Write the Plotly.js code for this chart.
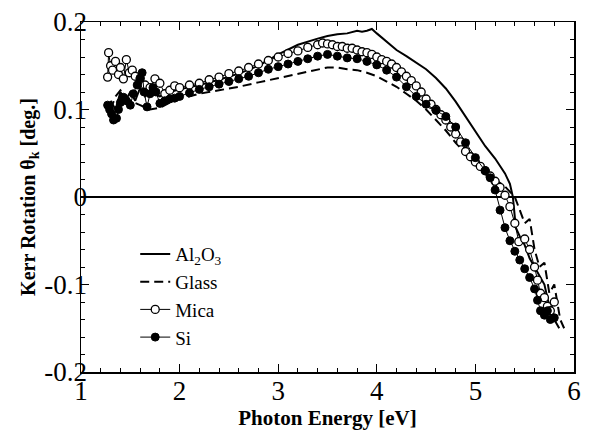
<!DOCTYPE html>
<html>
<head>
<meta charset="utf-8">
<script src="https://cdn.plot.ly/plotly-3.0.1.min.js"></script>
<style>
  html, body { margin: 0; padding: 0; background: #fff; }
  #chart { width: 589px; height: 439px; }
</style>
</head>
<body>
<div id="chart"></div>
<script>
// Kerr rotation spectra of films on four substrates

const al2o3X = [1.3,1.35,1.4,1.45,1.5,1.55,1.6,1.65,1.7,1.8,1.9,2.0,2.2,2.4,2.6,2.8,3.0,3.2,3.4,3.5,3.6,3.7,3.8,3.85,3.9,3.95,4.0,4.05,4.1,4.2,4.3,4.4,4.5,4.6,4.7,4.8,4.9,5.0,5.1,5.2,5.3,5.35,5.38,5.41,5.45,5.5,5.55,5.6,5.65,5.7,5.75,5.8,5.85];
const al2o3Y = [0.11,0.10,0.12,0.11,0.12,0.11,0.125,0.115,0.12,0.115,0.12,0.123,0.128,0.134,0.141,0.150,0.163,0.174,0.181,0.184,0.186,0.187,0.190,0.189,0.190,0.192,0.187,0.182,0.177,0.168,0.161,0.153,0.146,0.136,0.124,0.109,0.092,0.075,0.058,0.044,0.027,0.015,0.0,-0.035,-0.045,-0.055,-0.07,-0.08,-0.09,-0.10,-0.125,-0.14,-0.15];

const glassX = [1.3,1.35,1.4,1.5,1.6,1.7,1.8,1.9,2.0,2.2,2.4,2.6,2.8,3.0,3.2,3.4,3.5,3.6,3.7,3.8,3.9,4.0,4.1,4.2,4.3,4.4,4.5,4.6,4.7,4.8,4.9,5.0,5.1,5.2,5.3,5.4,5.45,5.5,5.55,5.6,5.65,5.7,5.75,5.8,5.83,5.86,5.9];
const glassY = [0.10,0.115,0.122,0.11,0.105,0.10,0.102,0.108,0.112,0.118,0.122,0.126,0.131,0.136,0.141,0.146,0.148,0.148,0.146,0.145,0.142,0.138,0.132,0.126,0.118,0.110,0.100,0.088,0.076,0.062,0.050,0.040,0.030,0.020,0.012,0.0,-0.015,-0.03,-0.025,-0.06,-0.08,-0.075,-0.11,-0.10,-0.12,-0.14,-0.15];

const micaX = [1.27,1.28,1.3,1.32,1.35,1.38,1.4,1.43,1.46,1.49,1.52,1.55,1.6,1.65,1.7,1.75,1.8,1.85,1.9,1.95,2.0,2.1,2.2,2.3,2.4,2.5,2.6,2.7,2.8,2.9,3.0,3.1,3.2,3.3,3.4,3.45,3.5,3.55,3.6,3.65,3.7,3.75,3.8,3.85,3.9,3.95,4.0,4.05,4.1,4.15,4.2,4.25,4.3,4.35,4.4,4.45,4.5,4.55,4.6,4.65,4.7,4.75,4.8,4.85,4.9,4.95,5.0,5.05,5.1,5.15,5.2,5.25,5.3,5.35,5.4,5.44,5.5,5.55,5.6,5.63,5.66,5.7,5.73,5.76,5.8];
const micaY = [0.137,0.165,0.150,0.145,0.155,0.140,0.148,0.135,0.157,0.142,0.145,0.138,0.135,0.128,0.125,0.135,0.130,0.118,0.122,0.127,0.125,0.128,0.130,0.134,0.137,0.141,0.144,0.148,0.152,0.156,0.160,0.164,0.167,0.171,0.174,0.176,0.175,0.174,0.172,0.172,0.170,0.170,0.168,0.166,0.165,0.163,0.160,0.157,0.155,0.152,0.148,0.143,0.138,0.133,0.127,0.120,0.112,0.106,0.100,0.094,0.088,0.080,0.072,0.063,0.052,0.046,0.040,0.035,0.030,0.024,0.018,0.011,0.002,-0.011,-0.030,-0.051,-0.048,-0.060,-0.080,-0.095,-0.110,-0.115,-0.125,-0.130,-0.120];

const siX = [1.27,1.29,1.31,1.33,1.36,1.38,1.4,1.43,1.46,1.5,1.53,1.57,1.6,1.62,1.64,1.67,1.7,1.73,1.76,1.8,1.85,1.9,1.95,2.0,2.1,2.2,2.3,2.4,2.5,2.6,2.7,2.8,2.9,3.0,3.1,3.2,3.3,3.4,3.5,3.6,3.7,3.8,3.9,4.0,4.1,4.2,4.3,4.4,4.5,4.6,4.7,4.8,4.9,5.0,5.1,5.15,5.2,5.25,5.3,5.35,5.4,5.45,5.5,5.55,5.6,5.63,5.66,5.7,5.73,5.76,5.8];
const siY = [0.105,0.100,0.095,0.088,0.090,0.100,0.108,0.114,0.110,0.105,0.118,0.128,0.136,0.142,0.120,0.103,0.118,0.125,0.120,0.107,0.110,0.112,0.113,0.115,0.119,0.123,0.126,0.129,0.132,0.135,0.138,0.142,0.146,0.149,0.152,0.155,0.158,0.161,0.163,0.161,0.159,0.158,0.155,0.151,0.145,0.137,0.126,0.115,0.106,0.099,0.092,0.080,0.062,0.045,0.030,0.022,0.008,-0.015,-0.035,-0.050,-0.062,-0.072,-0.082,-0.092,-0.105,-0.118,-0.130,-0.135,-0.130,-0.140,-0.138];

const xRange = [1, 6];
const yRange = [-0.2, 0.2];
const yTickVals = [-0.2, -0.1, 0, 0.1, 0.2];
const yTickText = ['-0.2', '-0.1', '0', '0.1', '0.2'];

const serif = 'Liberation Serif';

const traces = [
  { x: al2o3X, y: al2o3Y, name: 'Al<sub>2</sub>O<sub>3</sub>', mode: 'lines',
    line: { color: '#000', width: 2 } },
  { x: glassX, y: glassY, name: 'Glass', mode: 'lines',
    line: { color: '#000', width: 2, dash: '9px,5px' } },
  { x: micaX, y: micaY, name: 'Mica', mode: 'lines+markers',
    line: { color: '#000', width: 1 },
    marker: { symbol: 'circle', size: 8, color: '#fff', line: { color: '#000', width: 1.3 } } },
  { x: siX, y: siY, name: 'Si', mode: 'lines+markers',
    line: { color: '#000', width: 1 },
    marker: { symbol: 'circle', size: 8, color: '#000', line: { color: '#000', width: 1 } } },
  // empty trace that attaches the labelling axes so they get drawn
  { x: [], y: [], xaxis: 'x2', yaxis: 'y2', mode: 'lines', showlegend: false, hoverinfo: 'skip' }
];

// frame axes: box, inside ticks, zero line
const frameX = {
  range: xRange, dtick: 1, tick0: 1,
  showgrid: false, zeroline: false, showticklabels: false,
  showline: true, linecolor: '#000', linewidth: 1.5, mirror: 'ticks',
  ticks: 'inside', ticklen: 8, tickwidth: 1.2, tickcolor: '#000',
  minor: { dtick: 0.2, ticks: 'inside', ticklen: 4, tickwidth: 1, tickcolor: '#000' }
};
const frameY = {
  range: yRange, tickvals: yTickVals,
  showgrid: false, showticklabels: false,
  zeroline: true, zerolinecolor: '#000', zerolinewidth: 1.2,
  showline: true, linecolor: '#000', linewidth: 1.5, mirror: 'ticks',
  ticks: 'inside', ticklen: 8, tickwidth: 1.2, tickcolor: '#000',
  minor: { dtick: 0.02, ticks: 'inside', ticklen: 4, tickwidth: 1, tickcolor: '#000' }
};

// label axes: same scales, set slightly closer to the frame
const labelX = {
  overlaying: 'x', anchor: 'free', position: 0.0, side: 'bottom',
  range: xRange, dtick: 1, tick0: 1,
  showgrid: false, zeroline: false, showline: false, ticks: '',
  tickfont: { family: serif, size: 27, color: '#000' },
  title: { text: '<b>Photon Energy [eV]</b>', font: { family: serif, size: 21, color: '#000' }, standoff: 0 }
};
const labelY = {
  overlaying: 'y', anchor: 'free', position: 0.012, side: 'left',
  range: yRange, tickvals: yTickVals, ticktext: yTickText,
  showgrid: false, zeroline: false, showline: false, ticks: '',
  tickfont: { family: serif, size: 27, color: '#000' },
  title: { text: '<b>Kerr Rotation θ<sub>k</sub> [deg.]</b>', font: { family: serif, size: 20, color: '#000' }, standoff: 2 }
};

const layout = {
  width: 589, height: 439,
  margin: { l: 81, r: 15, t: 22, b: 67 },
  paper_bgcolor: '#fff', plot_bgcolor: '#fff',
  font: { family: serif, color: '#000' },
  showlegend: true,
  legend: {
    x: 0.11, y: 0.391, xanchor: 'left', yanchor: 'top',
    bgcolor: 'rgba(0,0,0,0)', borderwidth: 0,
    font: { family: serif, size: 19, color: '#000' },
    tracegroupgap: 0
  },
  xaxis: frameX,
  yaxis: frameY,
  xaxis2: labelX,
  yaxis2: labelY
};

Plotly.newPlot('chart', traces, layout, { staticPlot: true, displayModeBar: false });
</script>
</body>
</html>
